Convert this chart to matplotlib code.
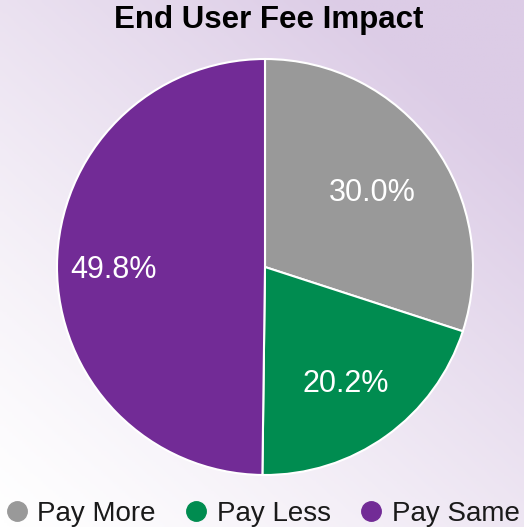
import numpy as np
import matplotlib.pyplot as plt
from matplotlib.lines import Line2D
from matplotlib.colors import LinearSegmentedColormap

plt.rcParams['font.family'] = ['Liberation Sans', 'DejaVu Sans']

labels = ["Pay More", "Pay Less", "Pay Same"]
values = [30.0, 20.2, 49.8]
colors = ["#999999", "#008C50", "#722B96"]
label_dist = [0.64, 0.67, 0.73]

fig = plt.figure(figsize=(5.24, 5.27), dpi=100)

# background gradient: white bottom-left -> lavender top-right
bg = fig.add_axes([0, 0, 1, 1])
xx, yy = np.meshgrid(np.linspace(0, 1, 200), np.linspace(0, 1, 200))
g = np.clip((xx * 0.6 + yy * 0.7) / 1.1, 0, 1) ** 1.2
cmap = LinearSegmentedColormap.from_list("bg", ["#FFFFFF", "#DCCCE6"])
bg.imshow(g, cmap=cmap, origin="lower", extent=[0, 1, 0, 1], aspect="auto")
bg.axis("off")

ax = fig.add_axes([57 / 524, 52 / 527, 416 / 524, 416 / 527])
wedges, texts, autotexts = ax.pie(
    values, colors=colors, startangle=90, counterclock=False,
    autopct="%.1f%%", pctdistance=0.63,
    wedgeprops=dict(edgecolor="white", linewidth=1.5),
    textprops=dict(color="white", fontsize=22))
for w, t, d in zip(wedges, autotexts, label_dist):
    a = np.deg2rad((w.theta1 + w.theta2) / 2)
    t.set_position((d * np.cos(a), d * np.sin(a) - 0.02))
ax.set_xlim(-1, 1)
ax.set_ylim(-1, 1)
ax.set_aspect("equal")

fig.text(0.512, 0.962, "End User Fee Impact", ha="center", va="center",
         fontsize=22.5, fontweight="bold", color="black")

handles = [Line2D([], [], marker="o", linestyle="", markersize=14,
                  markerfacecolor=c, markeredgecolor=c) for c in colors]
fig.legend(handles, labels, loc="center", bbox_to_anchor=(0.5, 0.025),
           ncol=3, frameon=False, fontsize=20, handletextpad=0.3,
           columnspacing=1.0, handlelength=0.9, labelcolor="#1a1a1a")

fig.savefig("out.png", dpi=100)
